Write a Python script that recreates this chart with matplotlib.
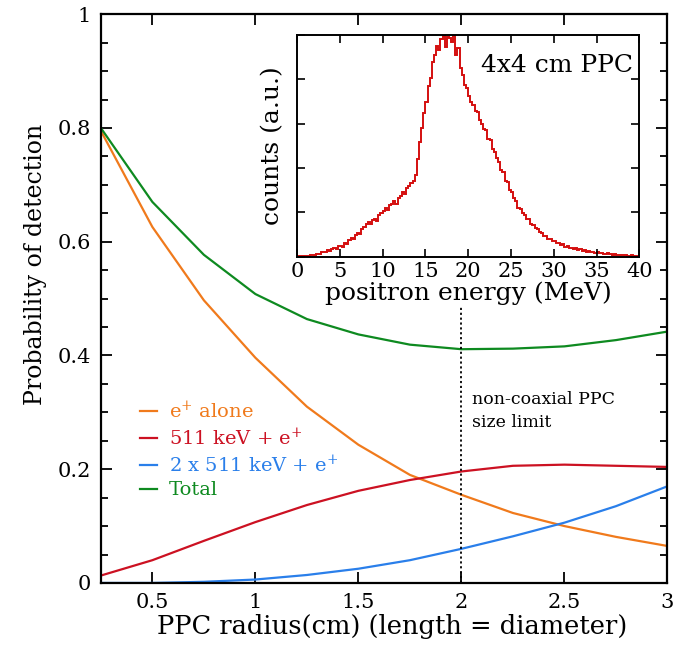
import numpy as np
import matplotlib
matplotlib.use('Agg')
import matplotlib.pyplot as plt
from matplotlib.ticker import MultipleLocator, NullFormatter

plt.rcParams['font.family'] = ['DejaVu Serif']
plt.rcParams['mathtext.fontset'] = 'dejavuserif'

# main plot: detection probability vs PPC radius
radius = [0.25, 0.5, 0.75, 1.0, 1.25, 1.5, 1.75, 2.0, 2.25, 2.5, 2.75, 3.0]
e_alone = [0.795, 0.626, 0.497, 0.396, 0.310, 0.243, 0.190, 0.155, 0.123, 0.100, 0.081, 0.065]
one_511 = [0.013, 0.040, 0.074, 0.107, 0.137, 0.162, 0.181, 0.196, 0.206, 0.208, 0.206, 0.204]
two_511 = [0.000, 0.000, 0.002, 0.006, 0.014, 0.025, 0.040, 0.060, 0.082, 0.106, 0.135, 0.170]
total = [0.800, 0.670, 0.577, 0.508, 0.464, 0.437, 0.419, 0.411, 0.412, 0.416, 0.427, 0.442]

x_ticks = [0.5, 1, 1.5, 2, 2.5, 3]
x_ticklabels = ['0.5', '1', '1.5', '2', '2.5', '3']
y_ticks = [0, 0.2, 0.4, 0.6, 0.8, 1]
y_ticklabels = ['0', '0.2', '0.4', '0.6', '0.8', '1']

# inset: positron energy spectrum, 0.25 MeV bins from 0 to 40 MeV
energy_edges = np.arange(0, 40.01, 0.25)
counts = [
    0.00, 0.01, 0.02, 0.01, 0.03, 0.02, 0.04, 0.05,
    0.05, 0.07, 0.06, 0.10, 0.12, 0.11, 0.15, 0.14,
    0.18, 0.21, 0.18, 0.24, 0.25, 0.23, 0.31, 0.30,
    0.37, 0.42, 0.40, 0.50, 0.54, 0.51, 0.63, 0.68,
    0.73, 0.79, 0.74, 0.82, 0.86, 0.81, 0.95, 0.99,
    1.03, 1.10, 1.05, 1.16, 1.18, 1.26, 1.20, 1.33,
    1.36, 1.46, 1.42, 1.55, 1.59, 1.66, 1.72, 1.85,
    2.20, 2.58, 2.90, 3.25, 3.50, 3.85, 4.02, 4.38,
    4.55, 4.75, 4.66, 4.90, 4.98, 4.72, 4.95, 4.92,
    4.85, 4.97, 4.55, 4.70, 4.25, 4.10, 3.88, 3.80,
    3.62, 3.48, 3.42, 3.28, 3.26, 3.08, 3.00, 2.88,
    2.86, 2.66, 2.64, 2.42, 2.36, 2.22, 2.14, 1.96,
    1.91, 1.72, 1.68, 1.50, 1.46, 1.32, 1.25, 1.10,
    1.07, 0.98, 0.95, 0.86, 0.85, 0.74, 0.72, 0.64,
    0.62, 0.56, 0.54, 0.47, 0.48, 0.40, 0.41, 0.35,
    0.36, 0.31, 0.32, 0.27, 0.29, 0.23, 0.25, 0.20,
    0.21, 0.18, 0.19, 0.15, 0.17, 0.13, 0.15, 0.12,
    0.13, 0.11, 0.12, 0.09, 0.10, 0.08, 0.09, 0.07,
    0.07, 0.08, 0.06, 0.05, 0.06, 0.04, 0.05, 0.04,
    0.04, 0.05, 0.03, 0.03, 0.04, 0.02, 0.03, 0.02,
]

fig = plt.figure(figsize=(6.86, 6.47), dpi=100)
ax = fig.add_axes([0.147, 0.099, 0.826, 0.879])

orange = '#f07a1c'
red = '#cc1122'
blue = '#2a7fea'
green = '#0e8a20'

ax.plot(radius, e_alone, color=orange, lw=1.6, label='e$^{+}$ alone')
ax.plot(radius, one_511, color=red, lw=1.6, label='511 keV + e$^{+}$')
ax.plot(radius, two_511, color=blue, lw=1.6, label='2 x 511 keV + e$^{+}$')
ax.plot(radius, total, color=green, lw=1.6, label='Total')

ax.plot([2, 2], [0, 0.485], color='black', lw=1.3, ls=(0, (1.2, 1.5)))
ax.text(2.05, 0.268, 'non-coaxial PPC\nsize limit', fontsize=12.5,
        va='bottom', ha='left', linespacing=1.45)

ax.set_xlim(0.25, 3)
ax.set_ylim(0, 1)
ax.set_xticks(x_ticks)
ax.set_xticklabels(x_ticklabels)
ax.set_yticks(y_ticks)
ax.set_yticklabels(y_ticklabels)
ax.yaxis.set_minor_locator(MultipleLocator(0.05))
ax.tick_params(which='both', direction='in', top=True, right=True,
               labelsize=15, width=1.3)
ax.tick_params(which='major', length=8, pad=7)
ax.tick_params(which='minor', length=5)
for s in ax.spines.values():
    s.set_linewidth(1.6)
ax.set_xlabel('PPC radius(cm) (length = diameter)', fontsize=18.5, labelpad=2, x=0.514)
ax.set_ylabel('Probability of detection', fontsize=17, labelpad=8, y=0.56)

leg = ax.legend(loc='upper left', bbox_to_anchor=(0.055, 0.335), frameon=False,
                fontsize=14, handlelength=0.9, handletextpad=0.6,
                labelspacing=0.28, borderaxespad=0)
for txt, line in zip(leg.get_texts(), leg.get_lines()):
    txt.set_color(line.get_color())

# inset
ins = fig.add_axes([0.433, 0.603, 0.499, 0.343])
ins.stairs(counts, energy_edges, color='#d40f0f', lw=1.4)
ins.set_xlim(0, 40)
ins.set_ylim(0, 5)
ins.xaxis.set_major_locator(MultipleLocator(5))
ins.yaxis.set_major_locator(MultipleLocator(1))
ins.yaxis.set_major_formatter(NullFormatter())
ins.tick_params(which='both', direction='in', top=True, right=True,
                labelsize=15, length=6, width=1.2, pad=4)
for s in ins.spines.values():
    s.set_linewidth(1.4)
ins.set_xlabel('positron energy (MeV)', fontsize=18, labelpad=0)
ins.set_ylabel('counts (a.u.)', fontsize=18, labelpad=5)
ins.text(0.98, 0.915, '4x4 cm PPC', transform=ins.transAxes, fontsize=18,
         ha='right', va='top',
         bbox=dict(facecolor='white', edgecolor='none', pad=1))

fig.savefig('out.png', dpi=100)
